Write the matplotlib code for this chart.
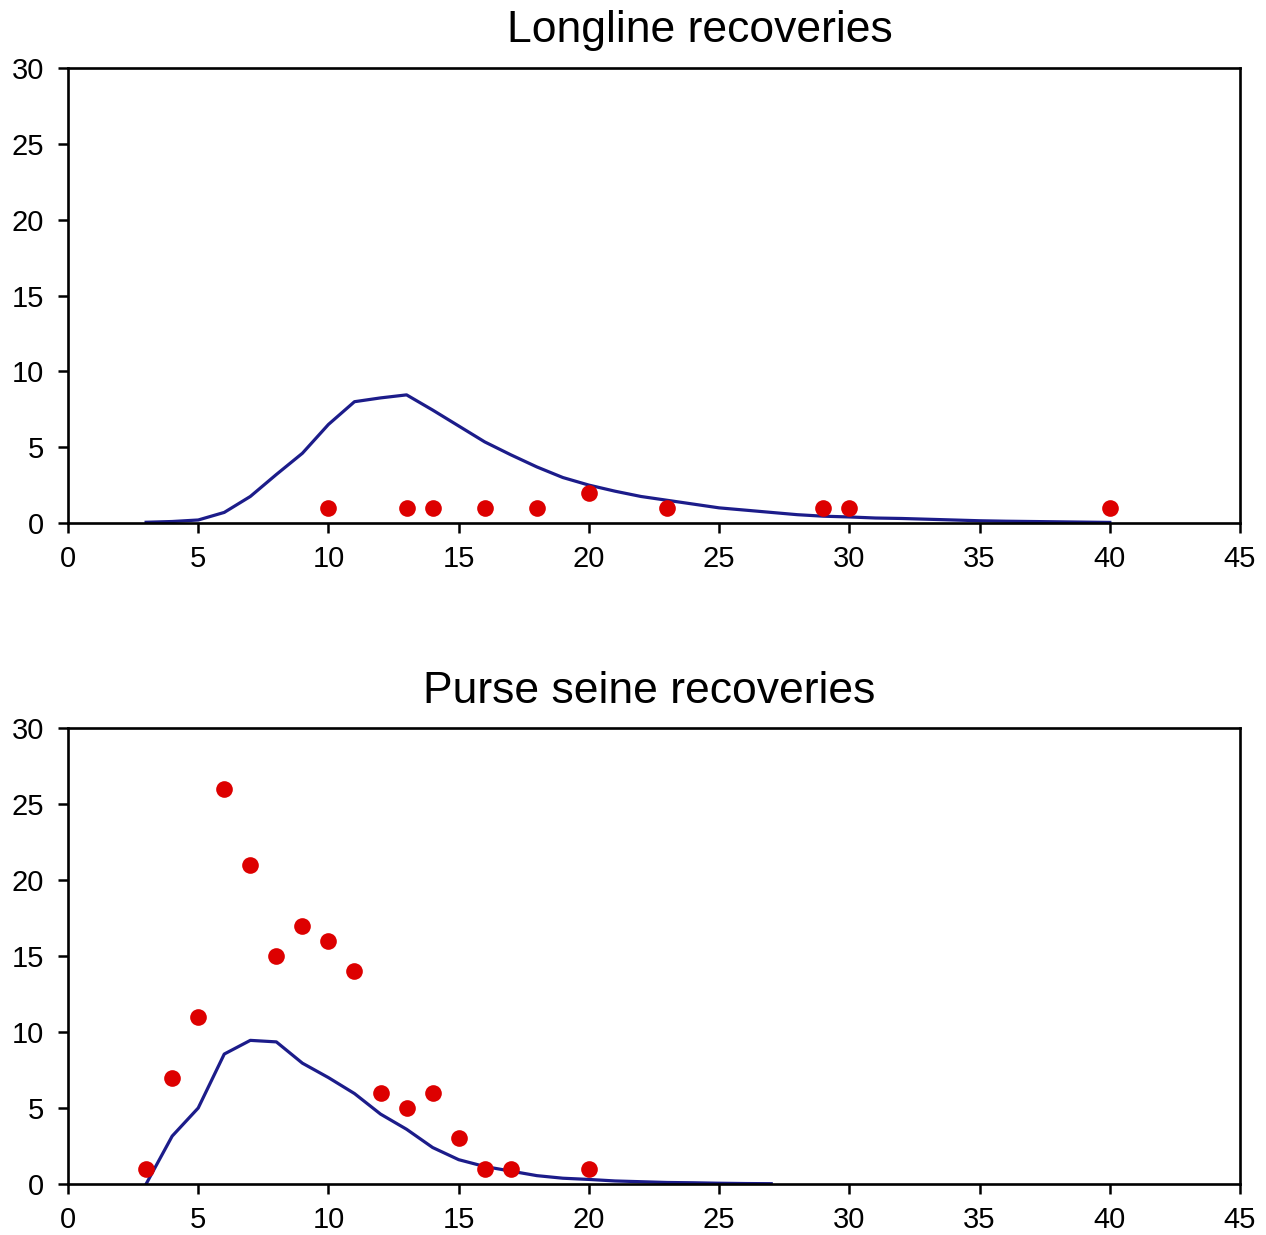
import numpy as np
import matplotlib.pyplot as plt

plt.rcParams['font.family'] = ['Liberation Sans', 'DejaVu Sans']

# Longline recoveries: fitted line and observed points
ll_x = list(range(3, 41))
ll_pred = [0.05, 0.1, 0.2, 0.7, 1.75, 3.2, 4.6, 6.5, 8.0, 8.25, 8.45, 7.45, 6.4,
           5.35, 4.5, 3.7, 3.0, 2.5, 2.1, 1.75, 1.5, 1.25, 1.0, 0.85, 0.7, 0.55,
           0.45, 0.4, 0.33, 0.3, 0.25, 0.2, 0.15, 0.12, 0.1, 0.08, 0.06, 0.04]
ll_obs_x = [10, 13, 14, 16, 18, 20, 23, 29, 30, 40]
ll_obs_y = [1, 1, 1, 1, 1, 2, 1, 1, 1, 1]

# Purse seine recoveries
ps_x = list(range(3, 28))
ps_pred = [0.0, 3.15, 5.0, 8.55, 9.45, 9.35, 7.95, 7.0, 5.95, 4.6, 3.6, 2.4, 1.6,
           1.15, 0.85, 0.55, 0.38, 0.3, 0.2, 0.15, 0.1, 0.08, 0.05, 0.03, 0.02]
ps_obs_x = [3, 4, 5, 6, 7, 8, 9, 10, 11, 12, 13, 14, 15, 16, 17, 20]
ps_obs_y = [1, 7, 11, 26, 21, 15, 17, 16, 14, 6, 5, 6, 3, 1, 1, 1]

line_col = '#1c1c8a'
dot_col = '#dd0000'

fig = plt.figure(figsize=(12.66, 12.35), dpi=100)
ax1 = fig.add_axes([0.0537, 0.5765, 0.9258, 0.3684])
ax2 = fig.add_axes([0.0537, 0.0413, 0.9258, 0.3692])

panels = [
    (ax1, ll_x, ll_pred, ll_obs_x, ll_obs_y, 'Longline recoveries', 0.553, 0.975),
    (ax2, ps_x, ps_pred, ps_obs_x, ps_obs_y, 'Purse seine recoveries', 0.513, 0.44),
]

for ax, x, pred, ox, oy, title, tx, ty in panels:
    ax.plot(x, pred, color=line_col, linewidth=2.3, zorder=2)
    ax.plot(ox, oy, 'o', color=dot_col, markersize=12, markeredgewidth=0, zorder=3)
    ax.set_xlim(0, 45)
    ax.set_ylim(0, 30)
    ax.set_xticks(np.arange(0, 46, 5))
    ax.set_yticks(np.arange(0, 31, 5))
    ax.tick_params(direction='out', length=7, width=1.8, labelsize=21, colors='black')
    ax.tick_params(axis='x', pad=9)
    ax.tick_params(axis='y', pad=10)
    for s in ax.spines.values():
        s.set_linewidth(1.9)
    fig.text(tx, ty, title, ha='center', va='center', fontsize=32)

fig.savefig('out.png', dpi=100)
